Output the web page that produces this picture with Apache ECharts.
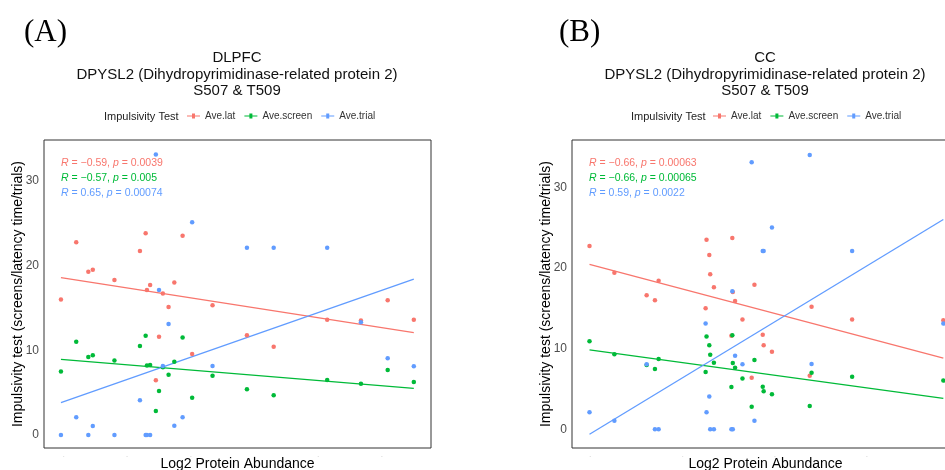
<!DOCTYPE html>
<html>
<head>
<meta charset="utf-8">
<script src="https://cdn.jsdelivr.net/npm/echarts@6/dist/echarts.min.js"></script>
<style>
  html, body { margin: 0; padding: 0; background: #fff; }
  #main { width: 945px; height: 470px; }
</style>
</head>
<body>
<div id="main"></div>
<script>
// panel A (DLPFC) - one entry per subject
var xA = [-0.04, 0.20, 0.39, 0.46, 0.80, 1.20, 1.29, 1.31, 1.36, 1.45, 1.50, 1.56, 1.65, 1.74, 1.87, 2.02, 2.34, 2.88, 3.30, 4.14, 4.67, 5.09, 5.50];
var latA = [16.0, 22.75, 19.25, 19.5, 18.3, 21.7, 23.8, 17.1, 17.7, 6.45, 11.6, 16.7, 15.1, 18.0, 23.5, 9.55, 15.3, 11.77, 10.4, 13.6, 13.5, 15.9, 13.6];
var screenA = [7.5, 11.0, 9.2, 9.4, 8.8, 10.5, 11.7, 8.2, 8.26, 2.83, 5.2, 8.0, 7.1, 8.65, 11.5, 4.4, 7.0, 5.4, 4.7, 6.5, 6.06, 7.67, 6.25];
var trialA = [0, 2.1, 0, 1.06, 0, 4.1, 0, 0, 0, 33.1, 17.1, 8.15, 13.1, 1.1, 2.1, 25.1, 8.15, 22.1, 22.1, 22.1, 13.3, 9.05, 8.1];
// fitted lines A (ends)
var fitXA = [-0.04, 5.50];
var latFitA = [18.57, 12.08];
var screenFitA = [8.93, 5.51];
var trialFitA = [3.82, 18.38];

// panel B (CC)
var xB = [-0.01, 0.26, 0.61, 0.70, 0.74, 1.25, 1.26, 1.29, 1.30, 1.34, 1.54, 1.545, 1.57, 1.53, 1.65, 1.78, 1.75, 1.87, 1.88, 1.97, 2.40, 2.38, 2.84, 3.83];
var latB = [22.7, 19.4, 16.6, 16.0, 18.4, 15.0, 23.5, 21.6, 19.2, 17.6, 23.7, 17.0, 15.9, 11.6, 13.6, 17.9, 6.4, 11.7, 10.4, 9.6, 15.2, 6.64, 13.6, 13.5];
var screenB = [10.9, 9.3, 7.97, 7.47, 8.7, 7.1, 11.5, 10.4, 9.25, 8.26, 11.65, 8.2, 7.63, 5.24, 6.3, 8.6, 2.8, 5.28, 4.7, 4.33, 7.0, 2.9, 6.5, 6.03];
var trialB = [2.1, 1.07, 8.05, 0, 0, 13.1, 2.1, 4.05, 0, 0, 17.1, 0, 9.1, 0, 8.05, 1.07, 33.1, 22.1, 22.1, 25.0, 8.1, 34.0, 22.1, 13.1];
var fitXB = [-0.01, 3.83];
var latFitB = [20.45, 8.83];
var screenFitB = [9.83, 3.84];
var trialFitB = [-0.62, 26.0];

var yTicks = [0, 10, 20, 30];
var xTicksA = [0, 1, 2, 3, 4, 5];
var xTicksB = [0, 1, 2, 3];

var names = ["Ave.lat", "Ave.screen", "Ave.trial"];
var colors = ["#F8766D", "#00BA38", "#619CFF"];
var corA = [["-0.59", "0.0039"], ["-0.57", "0.005"], ["0.65", "0.00074"]];
var corB = [["-0.66", "0.00063"], ["-0.66", "0.00065"], ["0.59", "0.0022"]];

var FONT = "'Liberation Sans', Arial, sans-serif";

function pairs(xs, ys) {
  return xs.map(function (x, i) { return [x, ys[i]]; });
}

function xAxisOf(idx, min, max, ticks) {
  return {
    type: "value", gridIndex: idx, min: min, max: max,
    name: "Log2 Protein Abundance", nameLocation: "middle", nameGap: 16,
    nameMoveOverlap: false,
    nameTextStyle: { fontFamily: FONT, fontSize: 14, color: "#000", verticalAlign: "middle" },
    axisLine: { show: false },
    axisTick: { show: false },
    splitLine: { show: false },
    axisLabel: {
      customValues: ticks, formatter: function () { return "-"; },
      fontSize: 5, color: "#c8c8c8", margin: 6, fontFamily: FONT
    }
  };
}

function yAxisOf(idx, min, max) {
  return {
    type: "value", gridIndex: idx, min: min, max: max,
    name: "Impulsivity test (screens/latency time/trials)",
    nameLocation: "middle", nameGap: 19, nameRotate: 90,
    nameMoveOverlap: false,
    nameTextStyle: { fontFamily: FONT, fontSize: 14, color: "#000" },
    axisLine: { show: false },
    axisTick: { show: false },
    splitLine: { show: false },
    axisLabel: {
      customValues: yTicks, fontSize: 12, color: "#4D4D4D", margin: 5, fontFamily: FONT
    }
  };
}

function panelSeries(idx, xs, ys, fx, fits) {
  var out = [];
  ys.forEach(function (vals, k) {
    out.push({
      name: names[k], type: "scatter", xAxisIndex: idx, yAxisIndex: idx,
      data: pairs(xs, vals), symbolSize: 4.5,
      itemStyle: { color: colors[k], opacity: 1 }, z: 3
    });
    out.push({
      name: names[k], type: "line", xAxisIndex: idx, yAxisIndex: idx,
      data: pairs(fx, fits[k]), showSymbol: false, silent: true,
      lineStyle: { color: colors[k], width: 1.3 }, itemStyle: { color: colors[k] }, z: 2
    });
  });
  return out;
}

var legendIcon = "path://M0,3h13v1h-13z M5,1h3v5h-3z";

function legendOf(left) {
  return {
    left: left, top: 111, padding: 0, itemWidth: 13, itemHeight: 7, itemGap: 9,
    selectedMode: false,
    data: names.map(function (n) { return { name: n, icon: legendIcon }; }),
    textStyle: { fontFamily: FONT, fontSize: 10, color: "#333" }
  };
}

function corTexts(x, cor) {
  return cor.map(function (c, k) {
    var r = c[0].replace("-", "\u2212");
    return {
      type: "text", left: x, top: 158 + k * 15,
      style: {
        text: "{i|R} = " + r + ", {i|p} = " + c[1],
        rich: { i: { fontStyle: "italic", fill: colors[k], fontSize: 10.5, fontFamily: FONT } },
        fill: colors[k], fontSize: 10.5, fontFamily: FONT
      }
    };
  });
}

var chart = echarts.init(document.getElementById("main"), null, { renderer: "canvas" });

var titleStyle = { fontFamily: FONT, fontSize: 15, fontWeight: "normal", color: "#111", lineHeight: 16.5 };

var option = {
  backgroundColor: "#fff",
  animation: false,
  title: [
    {
      text: "DLPFC\nDPYSL2 (Dihydropyrimidinase-related protein 2)\nS507 & T509",
      left: 237, top: 50, padding: 0, textAlign: "center", textStyle: titleStyle
    },
    {
      text: "CC\nDPYSL2 (Dihydropyrimidinase-related protein 2)\nS507 & T509",
      left: 765, top: 50, padding: 0, textAlign: "center", textStyle: titleStyle
    }
  ],
  legend: [legendOf(187), legendOf(713)],
  grid: [
    { left: 44, top: 140, width: 387, height: 308, show: true, borderColor: "#333", borderWidth: 1,
      backgroundColor: "#fff", outerBoundsMode: "none" },
    { left: 572, top: 140, width: 387, height: 308, show: true, borderColor: "#333", borderWidth: 1,
      backgroundColor: "#fff", outerBoundsMode: "none" }
  ],
  xAxis: [xAxisOf(0, -0.306, 5.77, xTicksA), xAxisOf(1, -0.2, 4.0, xTicksB)],
  yAxis: [yAxisOf(0, -1.53, 34.8), yAxisOf(1, -2.32, 35.85)],
  series: panelSeries(0, xA, [latA, screenA, trialA], fitXA, [latFitA, screenFitA, trialFitA])
    .concat(panelSeries(1, xB, [latB, screenB, trialB], fitXB, [latFitB, screenFitB, trialFitB])),
  graphic: [
    { type: "text", left: 24, top: 17, style: { text: "(A)", font: "31px 'Liberation Serif', 'Times New Roman', serif", fill: "#000" } },
    { type: "text", left: 559, top: 17, style: { text: "(B)", font: "31px 'Liberation Serif', 'Times New Roman', serif", fill: "#000" } },
    { type: "text", left: 104, top: 111, style: { text: "Impulsivity Test", fontSize: 11, fontFamily: FONT, fill: "#222" } },
    { type: "text", left: 631, top: 111, style: { text: "Impulsivity Test", fontSize: 11, fontFamily: FONT, fill: "#222" } }
  ].concat(corTexts(61, corA)).concat(corTexts(589, corB))
};

chart.setOption(option);
</script>
</body>
</html>
